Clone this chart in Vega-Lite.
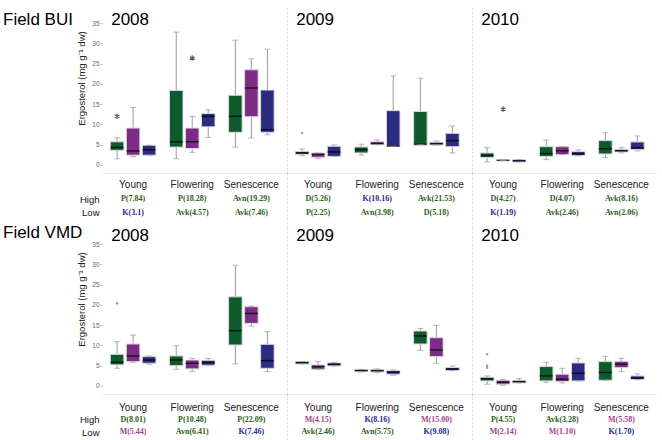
{
"$schema": "https://vega.github.io/schema/vega-lite/v6.json",
"padding": {"left": 3, "top": 7, "right": 0, "bottom": 0},
"background": "white",
"columns": 4,
"spacing": {"row": 0, "column": 0},
"bounds": "flush",
"align": "each",
"config": {"view": {"stroke": null}, "axis": {"grid": false, "labelOverlap": false}, "font": "Liberation Sans"},
"datasets": {
"bx": [
{"site":"BUI","year":"2008","stage":"Young","grp":"g","kind":"box","lo":1.5,"q1":3.6,"med":4.3,"q3":5.7,"hi":6.7},
{"site":"BUI","year":"2008","stage":"Young","grp":"p","kind":"box","lo":2.0,"q1":2.4,"med":3.45,"q3":9.1,"hi":14.2},
{"site":"BUI","year":"2008","stage":"Young","grp":"b","kind":"box","lo":2.4,"q1":2.4,"med":3.75,"q3":4.85,"hi":4.85},
{"site":"BUI","year":"2008","stage":"Flowering","grp":"g","kind":"box","lo":1.5,"q1":4.4,"med":5.7,"q3":18.4,"hi":32.8},
{"site":"BUI","year":"2008","stage":"Flowering","grp":"p","kind":"box","lo":3.1,"q1":4.05,"med":5.7,"q3":9.1,"hi":12.0},
{"site":"BUI","year":"2008","stage":"Flowering","grp":"b","kind":"box","lo":6.8,"q1":9.4,"med":12.0,"q3":12.7,"hi":13.6},
{"site":"BUI","year":"2008","stage":"Senescence","grp":"g","kind":"box","lo":4.4,"q1":8.05,"med":12.0,"q3":17.2,"hi":30.8},
{"site":"BUI","year":"2008","stage":"Senescence","grp":"p","kind":"box","lo":6.65,"q1":11.9,"med":19.0,"q3":23.5,"hi":26.2},
{"site":"BUI","year":"2008","stage":"Senescence","grp":"b","kind":"box","lo":7.45,"q1":8.05,"med":8.7,"q3":18.5,"hi":28.6},
{"site":"BUI","year":"2009","stage":"Young","grp":"g","kind":"box","lo":2.3,"q1":2.6,"med":2.95,"q3":3.35,"hi":3.95},
{"site":"BUI","year":"2009","stage":"Young","grp":"p","kind":"box","lo":1.63,"q1":1.87,"med":2.6,"q3":2.95,"hi":2.95},
{"site":"BUI","year":"2009","stage":"Young","grp":"b","kind":"box","lo":2.1,"q1":2.1,"med":3.2,"q3":4.6,"hi":4.93},
{"site":"BUI","year":"2009","stage":"Flowering","grp":"g","kind":"box","lo":2.45,"q1":2.95,"med":3.77,"q3":4.43,"hi":5.1},
{"site":"BUI","year":"2009","stage":"Flowering","grp":"p","kind":"box","lo":5.0,"q1":5.0,"med":5.25,"q3":5.75,"hi":6.15},
{"site":"BUI","year":"2009","stage":"Flowering","grp":"b","kind":"box","lo":4.6,"q1":4.6,"med":4.65,"q3":13.4,"hi":22.0},
{"site":"BUI","year":"2009","stage":"Senescence","grp":"g","kind":"box","lo":5.0,"q1":5.0,"med":5.05,"q3":13.2,"hi":21.4},
{"site":"BUI","year":"2009","stage":"Senescence","grp":"p","kind":"box","lo":4.9,"q1":4.93,"med":5.25,"q3":5.6,"hi":5.9},
{"site":"BUI","year":"2009","stage":"Senescence","grp":"b","kind":"box","lo":2.95,"q1":4.5,"med":6.0,"q3":7.8,"hi":9.6},
{"site":"BUI","year":"2010","stage":"Young","grp":"g","kind":"box","lo":0.74,"q1":1.8,"med":2.37,"q3":2.95,"hi":4.26},
{"site":"BUI","year":"2010","stage":"Young","grp":"p","kind":"box","lo":1.05,"q1":1.05,"med":1.13,"q3":1.2,"hi":1.2},
{"site":"BUI","year":"2010","stage":"Young","grp":"b","kind":"box","lo":0.7,"q1":0.74,"med":1.0,"q3":1.3,"hi":1.35},
{"site":"BUI","year":"2010","stage":"Flowering","grp":"g","kind":"box","lo":1.3,"q1":2.1,"med":2.8,"q3":4.5,"hi":6.15},
{"site":"BUI","year":"2010","stage":"Flowering","grp":"p","kind":"box","lo":2.55,"q1":2.55,"med":3.5,"q3":4.5,"hi":4.5},
{"site":"BUI","year":"2010","stage":"Flowering","grp":"b","kind":"box","lo":2.3,"q1":2.3,"med":2.8,"q3":3.28,"hi":3.7},
{"site":"BUI","year":"2010","stage":"Senescence","grp":"g","kind":"box","lo":1.8,"q1":2.7,"med":4.0,"q3":6.0,"hi":7.95},
{"site":"BUI","year":"2010","stage":"Senescence","grp":"p","kind":"box","lo":2.95,"q1":3.2,"med":3.5,"q3":3.85,"hi":4.26},
{"site":"BUI","year":"2010","stage":"Senescence","grp":"b","kind":"box","lo":3.45,"q1":3.77,"med":4.26,"q3":5.67,"hi":7.15},
{"site":"VMD","year":"2008","stage":"Young","grp":"g","kind":"box","lo":4.35,"q1":5.2,"med":5.83,"q3":7.8,"hi":10.9},
{"site":"VMD","year":"2008","stage":"Young","grp":"p","kind":"box","lo":5.83,"q1":6.0,"med":7.4,"q3":10.35,"hi":12.57},
{"site":"VMD","year":"2008","stage":"Young","grp":"b","kind":"box","lo":5.34,"q1":5.59,"med":6.4,"q3":7.23,"hi":7.4},
{"site":"VMD","year":"2008","stage":"Flowering","grp":"g","kind":"box","lo":4.1,"q1":5.0,"med":6.4,"q3":7.4,"hi":9.94},
{"site":"VMD","year":"2008","stage":"Flowering","grp":"p","kind":"box","lo":3.53,"q1":4.2,"med":5.6,"q3":6.4,"hi":6.8},
{"site":"VMD","year":"2008","stage":"Flowering","grp":"b","kind":"box","lo":5.1,"q1":5.1,"med":5.75,"q3":6.33,"hi":6.8},
{"site":"VMD","year":"2008","stage":"Senescence","grp":"g","kind":"box","lo":5.42,"q1":10.1,"med":13.64,"q3":22.0,"hi":29.8},
{"site":"VMD","year":"2008","stage":"Senescence","grp":"p","kind":"box","lo":14.8,"q1":15.45,"med":17.9,"q3":19.56,"hi":19.7},
{"site":"VMD","year":"2008","stage":"Senescence","grp":"b","kind":"box","lo":3.53,"q1":4.35,"med":6.25,"q3":10.27,"hi":13.4},
{"site":"VMD","year":"2009","stage":"Young","grp":"g","kind":"box","lo":5.4,"q1":5.42,"med":5.75,"q3":6.0,"hi":6.05},
{"site":"VMD","year":"2009","stage":"Young","grp":"p","kind":"box","lo":4.1,"q1":4.1,"med":4.77,"q3":5.18,"hi":6.0},
{"site":"VMD","year":"2009","stage":"Young","grp":"b","kind":"box","lo":4.93,"q1":4.93,"med":5.34,"q3":5.67,"hi":5.8},
{"site":"VMD","year":"2009","stage":"Flowering","grp":"g","kind":"box","lo":3.45,"q1":3.53,"med":3.78,"q3":4.03,"hi":4.1},
{"site":"VMD","year":"2009","stage":"Flowering","grp":"p","kind":"box","lo":3.29,"q1":3.45,"med":3.78,"q3":4.0,"hi":4.19},
{"site":"VMD","year":"2009","stage":"Flowering","grp":"b","kind":"box","lo":2.63,"q1":2.88,"med":3.37,"q3":3.78,"hi":3.94},
{"site":"VMD","year":"2009","stage":"Senescence","grp":"g","kind":"box","lo":8.8,"q1":10.35,"med":12.33,"q3":13.56,"hi":14.2},
{"site":"VMD","year":"2009","stage":"Senescence","grp":"p","kind":"box","lo":5.59,"q1":7.23,"med":8.87,"q3":11.9,"hi":14.95},
{"site":"VMD","year":"2009","stage":"Senescence","grp":"b","kind":"box","lo":3.78,"q1":3.78,"med":4.19,"q3":4.52,"hi":4.93},
{"site":"VMD","year":"2010","stage":"Young","grp":"g","kind":"box","lo":0.41,"q1":1.23,"med":1.73,"q3":2.14,"hi":2.47},
{"site":"VMD","year":"2010","stage":"Young","grp":"p","kind":"box","lo":0.16,"q1":0.41,"med":0.9,"q3":1.4,"hi":1.56},
{"site":"VMD","year":"2010","stage":"Young","grp":"b","kind":"box","lo":0.74,"q1":0.74,"med":1.07,"q3":1.31,"hi":1.8},
{"site":"VMD","year":"2010","stage":"Flowering","grp":"g","kind":"box","lo":0.9,"q1":1.23,"med":2.47,"q3":4.77,"hi":5.83},
{"site":"VMD","year":"2010","stage":"Flowering","grp":"p","kind":"box","lo":0.74,"q1":1.07,"med":1.64,"q3":2.88,"hi":4.35},
{"site":"VMD","year":"2010","stage":"Flowering","grp":"b","kind":"box","lo":1.23,"q1":1.23,"med":3.12,"q3":5.67,"hi":6.8},
{"site":"VMD","year":"2010","stage":"Senescence","grp":"g","kind":"box","lo":1.4,"q1":1.4,"med":3.29,"q3":6.0,"hi":7.3},
{"site":"VMD","year":"2010","stage":"Senescence","grp":"p","kind":"box","lo":3.53,"q1":4.52,"med":5.34,"q3":6.08,"hi":6.8},
{"site":"VMD","year":"2010","stage":"Senescence","grp":"b","kind":"box","lo":1.56,"q1":1.56,"med":1.97,"q3":2.47,"hi":2.96},
{"site":"BUI","year":"2008","stage":"Young","grp":"g","kind":"ext","v":12.0},
{"site":"BUI","year":"2008","stage":"Flowering","grp":"p","kind":"ext","v":26.4},
{"site":"BUI","year":"2009","stage":"Young","grp":"g","kind":"dot","v":7.9},
{"site":"BUI","year":"2010","stage":"Young","grp":"p","kind":"ext","v":13.8},
{"site":"VMD","year":"2008","stage":"Young","grp":"g","kind":"dot","v":20.4},
{"site":"VMD","year":"2010","stage":"Young","grp":"g","kind":"dot","v":7.8},
{"site":"VMD","year":"2010","stage":"Young","grp":"g","kind":"dot","v":5.0},
{"site":"VMD","year":"2010","stage":"Young","grp":"g","kind":"dot","v":4.5}
],
"tx": [
{"site":"BUI","year":"2008","stage":"Young","level":"High","code":"P","label":"P(7.84)"},
{"site":"BUI","year":"2008","stage":"Young","level":"Low","code":"K","label":"K(3.1)"},
{"site":"BUI","year":"2008","stage":"Flowering","level":"High","code":"P","label":"P(18.28)"},
{"site":"BUI","year":"2008","stage":"Flowering","level":"Low","code":"Avk","label":"Avk(4.57)"},
{"site":"BUI","year":"2008","stage":"Senescence","level":"High","code":"Avn","label":"Avn(19.29)"},
{"site":"BUI","year":"2008","stage":"Senescence","level":"Low","code":"Avk","label":"Avk(7.46)"},
{"site":"BUI","year":"2009","stage":"Young","level":"High","code":"D","label":"D(5.26)"},
{"site":"BUI","year":"2009","stage":"Young","level":"Low","code":"P","label":"P(2.25)"},
{"site":"BUI","year":"2009","stage":"Flowering","level":"High","code":"K","label":"K(10.16)"},
{"site":"BUI","year":"2009","stage":"Flowering","level":"Low","code":"Avn","label":"Avn(3.98)"},
{"site":"BUI","year":"2009","stage":"Senescence","level":"High","code":"Avk","label":"Avk(21.53)"},
{"site":"BUI","year":"2009","stage":"Senescence","level":"Low","code":"D","label":"D(5.18)"},
{"site":"BUI","year":"2010","stage":"Young","level":"High","code":"D","label":"D(4.27)"},
{"site":"BUI","year":"2010","stage":"Young","level":"Low","code":"K","label":"K(1.19)"},
{"site":"BUI","year":"2010","stage":"Flowering","level":"High","code":"D","label":"D(4.07)"},
{"site":"BUI","year":"2010","stage":"Flowering","level":"Low","code":"Avk","label":"Avk(2.46)"},
{"site":"BUI","year":"2010","stage":"Senescence","level":"High","code":"Avk","label":"Avk(8.16)"},
{"site":"BUI","year":"2010","stage":"Senescence","level":"Low","code":"Avn","label":"Avn(2.06)"},
{"site":"VMD","year":"2008","stage":"Young","level":"High","code":"D","label":"D(8.01)"},
{"site":"VMD","year":"2008","stage":"Young","level":"Low","code":"M","label":"M(5.44)"},
{"site":"VMD","year":"2008","stage":"Flowering","level":"High","code":"P","label":"P(10.48)"},
{"site":"VMD","year":"2008","stage":"Flowering","level":"Low","code":"Avn","label":"Avn(6.41)"},
{"site":"VMD","year":"2008","stage":"Senescence","level":"High","code":"P","label":"P(22.09)"},
{"site":"VMD","year":"2008","stage":"Senescence","level":"Low","code":"K","label":"K(7.46)"},
{"site":"VMD","year":"2009","stage":"Young","level":"High","code":"M","label":"M(4.15)"},
{"site":"VMD","year":"2009","stage":"Young","level":"Low","code":"Avk","label":"Avk(2.46)"},
{"site":"VMD","year":"2009","stage":"Flowering","level":"High","code":"K","label":"K(8.16)"},
{"site":"VMD","year":"2009","stage":"Flowering","level":"Low","code":"Avn","label":"Avn(5.75)"},
{"site":"VMD","year":"2009","stage":"Senescence","level":"High","code":"M","label":"M(15.00)"},
{"site":"VMD","year":"2009","stage":"Senescence","level":"Low","code":"K","label":"K(9.08)"},
{"site":"VMD","year":"2010","stage":"Young","level":"High","code":"P","label":"P(4.55)"},
{"site":"VMD","year":"2010","stage":"Young","level":"Low","code":"M","label":"M(2.14)"},
{"site":"VMD","year":"2010","stage":"Flowering","level":"High","code":"Avk","label":"Avk(3.28)"},
{"site":"VMD","year":"2010","stage":"Flowering","level":"Low","code":"M","label":"M(1.10)"},
{"site":"VMD","year":"2010","stage":"Senescence","level":"High","code":"M","label":"M(5.58)"},
{"site":"VMD","year":"2010","stage":"Senescence","level":"Low","code":"K","label":"K(1.70)"}
]
},
"concat": [
{"width": 99, "height": 26, "data": {"values": [{"t": "Field BUI"}]}, "mark": {"type": "text", "align": "left", "baseline": "middle", "fontSize": 17, "font": "Liberation Sans", "color": "#000"}, "encoding": {"x": {"field": "t", "type": "nominal", "axis": null, "scale": {"type": "point", "padding": 0, "align": 0}}, "text": {"field": "t"}}},

{"width":185,"height":166,"data":{"name":"bx"},"transform":[{"filter":"datum.site=='BUI' && datum.year=='2008'"}],
"encoding":{"x":{"field":"stage","type":"nominal","sort":["Young","Flowering","Senescence"],"scale":{"type":"band","domain":["Young","Flowering","Senescence"],"paddingInner":0,"paddingOuter":0.064,"align":0.2},"axis":{"labels":false,"ticks":false,"title":null,"domainColor":"#e6e6e6"}}},
"layer":[
{"transform":[{"filter":"datum.kind=='box'"}],"mark":{"type":"rule","color":"#9a9a9a","strokeWidth":1},"encoding":{"xOffset":{"field":"grp","type":"nominal","scale":{"domain":["g","p","b"],"paddingInner":0.156,"paddingOuter":0.426}},"y":{"field":"lo","type":"quantitative","scale":{"domain":[-2,39],"nice":false,"zero":false},"axis":{"values":[0,5,10,15,20,25,30,35],"labelOverlap":false,"title":"Ergosterol  (mg g⁻¹ dw)","titleFontSize":9.5,"titleFont":"Liberation Sans","titleFontWeight":"normal","titleColor":"#222","titlePadding":5,"titleY":71,"labelFontSize":6.5,"labelColor":"#666","labelFont":"Liberation Sans","tickSize":2,"tickColor":"#bbb","labelPadding":1,"domain":false}},"y2":{"field":"hi"}}},
{"transform":[{"filter":"datum.kind=='box'"}],"mark":{"type":"bar","stroke":"#d9d9d9","strokeWidth":1},"encoding":{"xOffset":{"field":"grp","type":"nominal","scale":{"domain":["g","p","b"],"paddingInner":0.156,"paddingOuter":0.426}},"y":{"field":"q1","type":"quantitative","scale":{"domain":[-2,39],"nice":false,"zero":false},"axis":{"values":[0,5,10,15,20,25,30,35],"labelOverlap":false,"title":"Ergosterol  (mg g⁻¹ dw)","titleFontSize":9.5,"titleFont":"Liberation Sans","titleFontWeight":"normal","titleColor":"#222","titlePadding":5,"titleY":71,"labelFontSize":6.5,"labelColor":"#666","labelFont":"Liberation Sans","tickSize":2,"tickColor":"#bbb","labelPadding":1,"domain":false}},"y2":{"field":"q3"},"fill":{"field":"grp","type":"nominal","scale":{"domain":["g","p","b"],"range":["#0e5a2c","#7d2c86","#2b2b80"]},"legend":null}}},
{"transform":[{"filter":"datum.kind=='box'"}],"mark":{"type":"tick","color":"#000","size":13,"thickness":1.5},"encoding":{"xOffset":{"field":"grp","type":"nominal","scale":{"domain":["g","p","b"],"paddingInner":0.156,"paddingOuter":0.426}},"y":{"field":"med","type":"quantitative","scale":{"domain":[-2,39],"nice":false,"zero":false},"axis":{"values":[0,5,10,15,20,25,30,35],"labelOverlap":false,"title":"Ergosterol  (mg g⁻¹ dw)","titleFontSize":9.5,"titleFont":"Liberation Sans","titleFontWeight":"normal","titleColor":"#222","titlePadding":5,"titleY":71,"labelFontSize":6.5,"labelColor":"#666","labelFont":"Liberation Sans","tickSize":2,"tickColor":"#bbb","labelPadding":1,"domain":false}}}},
{"transform":[{"filter":"datum.kind=='box'"}],"mark":{"type":"tick","color":"#9a9a9a","size":6,"thickness":1},"encoding":{"xOffset":{"field":"grp","type":"nominal","scale":{"domain":["g","p","b"],"paddingInner":0.156,"paddingOuter":0.426}},"y":{"field":"lo","type":"quantitative","scale":{"domain":[-2,39],"nice":false,"zero":false},"axis":{"values":[0,5,10,15,20,25,30,35],"labelOverlap":false,"title":"Ergosterol  (mg g⁻¹ dw)","titleFontSize":9.5,"titleFont":"Liberation Sans","titleFontWeight":"normal","titleColor":"#222","titlePadding":5,"titleY":71,"labelFontSize":6.5,"labelColor":"#666","labelFont":"Liberation Sans","tickSize":2,"tickColor":"#bbb","labelPadding":1,"domain":false}}}},
{"transform":[{"filter":"datum.kind=='box'"}],"mark":{"type":"tick","color":"#9a9a9a","size":6,"thickness":1},"encoding":{"xOffset":{"field":"grp","type":"nominal","scale":{"domain":["g","p","b"],"paddingInner":0.156,"paddingOuter":0.426}},"y":{"field":"hi","type":"quantitative","scale":{"domain":[-2,39],"nice":false,"zero":false},"axis":{"values":[0,5,10,15,20,25,30,35],"labelOverlap":false,"title":"Ergosterol  (mg g⁻¹ dw)","titleFontSize":9.5,"titleFont":"Liberation Sans","titleFontWeight":"normal","titleColor":"#222","titlePadding":5,"titleY":71,"labelFontSize":6.5,"labelColor":"#666","labelFont":"Liberation Sans","tickSize":2,"tickColor":"#bbb","labelPadding":1,"domain":false}}}},
{"transform":[{"filter":"datum.kind=='ext'"}],"mark":{"type":"point","shape":"M0,-1L0,1M-0.87,-0.5L0.87,0.5M-0.87,0.5L0.87,-0.5","filled":false,"color":"#111","size":30,"strokeWidth":1.2},"encoding":{"xOffset":{"field":"grp","type":"nominal","scale":{"domain":["g","p","b"],"paddingInner":0.156,"paddingOuter":0.426}},"y":{"field":"v","type":"quantitative","scale":{"domain":[-2,39],"nice":false,"zero":false},"axis":{"values":[0,5,10,15,20,25,30,35],"labelOverlap":false,"title":"Ergosterol  (mg g⁻¹ dw)","titleFontSize":9.5,"titleFont":"Liberation Sans","titleFontWeight":"normal","titleColor":"#222","titlePadding":5,"titleY":71,"labelFontSize":6.5,"labelColor":"#666","labelFont":"Liberation Sans","tickSize":2,"tickColor":"#bbb","labelPadding":1,"domain":false}}}},
{"transform":[{"filter":"datum.kind=='dot'"}],"mark":{"type":"point","shape":"circle","filled":true,"color":"#777","size":6},"encoding":{"xOffset":{"field":"grp","type":"nominal","scale":{"domain":["g","p","b"],"paddingInner":0.156,"paddingOuter":0.426}},"y":{"field":"v","type":"quantitative","scale":{"domain":[-2,39],"nice":false,"zero":false},"axis":{"values":[0,5,10,15,20,25,30,35],"labelOverlap":false,"title":"Ergosterol  (mg g⁻¹ dw)","titleFontSize":9.5,"titleFont":"Liberation Sans","titleFontWeight":"normal","titleColor":"#222","titlePadding":5,"titleY":71,"labelFontSize":6.5,"labelColor":"#666","labelFont":"Liberation Sans","tickSize":2,"tickColor":"#bbb","labelPadding":1,"domain":false}}}},
{"transform":[{"filter":"datum.kind=='box' && datum.stage=='Young' && datum.grp=='g'"}],"mark":{"type":"text","align":"left","baseline":"alphabetic","fontSize":17,"font":"Liberation Sans","color":"#000"},"encoding":{"x":{"field":"stage","type":"nominal","bandPosition":0.13},"y":{"datum":34.5,"type":"quantitative","scale":{"domain":[-2,39],"nice":false,"zero":false},"axis":{"values":[0,5,10,15,20,25,30,35],"labelOverlap":false,"title":"Ergosterol  (mg g⁻¹ dw)","titleFontSize":9.5,"titleFont":"Liberation Sans","titleFontWeight":"normal","titleColor":"#222","titlePadding":5,"titleY":71,"labelFontSize":6.5,"labelColor":"#666","labelFont":"Liberation Sans","tickSize":2,"tickColor":"#bbb","labelPadding":1,"domain":false}},"text":{"field":"year"}}}
]},

{"width":185,"height":166,"data":{"name":"bx"},"transform":[{"filter":"datum.site=='BUI' && datum.year=='2009'"}],
"encoding":{"x":{"field":"stage","type":"nominal","sort":["Young","Flowering","Senescence"],"scale":{"type":"band","domain":["Young","Flowering","Senescence"],"paddingInner":0,"paddingOuter":0.064,"align":0.2},"axis":{"labels":false,"ticks":false,"title":null,"domainColor":"#e6e6e6"}}},
"layer":[
{"transform":[{"filter":"datum.kind=='box'"}],"mark":{"type":"rule","color":"#9a9a9a","strokeWidth":1},"encoding":{"xOffset":{"field":"grp","type":"nominal","scale":{"domain":["g","p","b"],"paddingInner":0.156,"paddingOuter":0.426}},"y":{"field":"lo","type":"quantitative","scale":{"domain":[-2,39],"nice":false,"zero":false},"axis":{"title":null,"labels":false,"ticks":false,"domain":true,"domainColor":"#d6d6d6","domainDash":[2,2]}},"y2":{"field":"hi"}}},
{"transform":[{"filter":"datum.kind=='box'"}],"mark":{"type":"bar","stroke":"#d9d9d9","strokeWidth":1},"encoding":{"xOffset":{"field":"grp","type":"nominal","scale":{"domain":["g","p","b"],"paddingInner":0.156,"paddingOuter":0.426}},"y":{"field":"q1","type":"quantitative","scale":{"domain":[-2,39],"nice":false,"zero":false}},"y2":{"field":"q3"},"fill":{"field":"grp","type":"nominal","scale":{"domain":["g","p","b"],"range":["#0e5a2c","#7d2c86","#2b2b80"]},"legend":null}}},
{"transform":[{"filter":"datum.kind=='box'"}],"mark":{"type":"tick","color":"#000","size":13,"thickness":1.5},"encoding":{"xOffset":{"field":"grp","type":"nominal","scale":{"domain":["g","p","b"],"paddingInner":0.156,"paddingOuter":0.426}},"y":{"field":"med","type":"quantitative","scale":{"domain":[-2,39],"nice":false,"zero":false}}}},
{"transform":[{"filter":"datum.kind=='box'"}],"mark":{"type":"tick","color":"#9a9a9a","size":6,"thickness":1},"encoding":{"xOffset":{"field":"grp","type":"nominal","scale":{"domain":["g","p","b"],"paddingInner":0.156,"paddingOuter":0.426}},"y":{"field":"lo","type":"quantitative","scale":{"domain":[-2,39],"nice":false,"zero":false}}}},
{"transform":[{"filter":"datum.kind=='box'"}],"mark":{"type":"tick","color":"#9a9a9a","size":6,"thickness":1},"encoding":{"xOffset":{"field":"grp","type":"nominal","scale":{"domain":["g","p","b"],"paddingInner":0.156,"paddingOuter":0.426}},"y":{"field":"hi","type":"quantitative","scale":{"domain":[-2,39],"nice":false,"zero":false}}}},
{"transform":[{"filter":"datum.kind=='ext'"}],"mark":{"type":"point","shape":"M0,-1L0,1M-0.87,-0.5L0.87,0.5M-0.87,0.5L0.87,-0.5","filled":false,"color":"#111","size":30,"strokeWidth":1.2},"encoding":{"xOffset":{"field":"grp","type":"nominal","scale":{"domain":["g","p","b"],"paddingInner":0.156,"paddingOuter":0.426}},"y":{"field":"v","type":"quantitative","scale":{"domain":[-2,39],"nice":false,"zero":false}}}},
{"transform":[{"filter":"datum.kind=='dot'"}],"mark":{"type":"point","shape":"circle","filled":true,"color":"#777","size":6},"encoding":{"xOffset":{"field":"grp","type":"nominal","scale":{"domain":["g","p","b"],"paddingInner":0.156,"paddingOuter":0.426}},"y":{"field":"v","type":"quantitative","scale":{"domain":[-2,39],"nice":false,"zero":false}}}},
{"transform":[{"filter":"datum.kind=='box' && datum.stage=='Young' && datum.grp=='g'"}],"mark":{"type":"text","align":"left","baseline":"alphabetic","fontSize":17,"font":"Liberation Sans","color":"#000"},"encoding":{"x":{"field":"stage","type":"nominal","bandPosition":0.13},"y":{"datum":34.5,"type":"quantitative","scale":{"domain":[-2,39],"nice":false,"zero":false}},"text":{"field":"year"}}}
]},

{"width":185,"height":166,"data":{"name":"bx"},"transform":[{"filter":"datum.site=='BUI' && datum.year=='2010'"}],
"encoding":{"x":{"field":"stage","type":"nominal","sort":["Young","Flowering","Senescence"],"scale":{"type":"band","domain":["Young","Flowering","Senescence"],"paddingInner":0,"paddingOuter":0.064,"align":0.2},"axis":{"labels":false,"ticks":false,"title":null,"domainColor":"#e6e6e6"}}},
"layer":[
{"transform":[{"filter":"datum.kind=='box'"}],"mark":{"type":"rule","color":"#9a9a9a","strokeWidth":1},"encoding":{"xOffset":{"field":"grp","type":"nominal","scale":{"domain":["g","p","b"],"paddingInner":0.156,"paddingOuter":0.426}},"y":{"field":"lo","type":"quantitative","scale":{"domain":[-2,39],"nice":false,"zero":false},"axis":{"title":null,"labels":false,"ticks":false,"domain":true,"domainColor":"#d6d6d6","domainDash":[2,2]}},"y2":{"field":"hi"}}},
{"transform":[{"filter":"datum.kind=='box'"}],"mark":{"type":"bar","stroke":"#d9d9d9","strokeWidth":1},"encoding":{"xOffset":{"field":"grp","type":"nominal","scale":{"domain":["g","p","b"],"paddingInner":0.156,"paddingOuter":0.426}},"y":{"field":"q1","type":"quantitative","scale":{"domain":[-2,39],"nice":false,"zero":false}},"y2":{"field":"q3"},"fill":{"field":"grp","type":"nominal","scale":{"domain":["g","p","b"],"range":["#0e5a2c","#7d2c86","#2b2b80"]},"legend":null}}},
{"transform":[{"filter":"datum.kind=='box'"}],"mark":{"type":"tick","color":"#000","size":13,"thickness":1.5},"encoding":{"xOffset":{"field":"grp","type":"nominal","scale":{"domain":["g","p","b"],"paddingInner":0.156,"paddingOuter":0.426}},"y":{"field":"med","type":"quantitative","scale":{"domain":[-2,39],"nice":false,"zero":false}}}},
{"transform":[{"filter":"datum.kind=='box'"}],"mark":{"type":"tick","color":"#9a9a9a","size":6,"thickness":1},"encoding":{"xOffset":{"field":"grp","type":"nominal","scale":{"domain":["g","p","b"],"paddingInner":0.156,"paddingOuter":0.426}},"y":{"field":"lo","type":"quantitative","scale":{"domain":[-2,39],"nice":false,"zero":false}}}},
{"transform":[{"filter":"datum.kind=='box'"}],"mark":{"type":"tick","color":"#9a9a9a","size":6,"thickness":1},"encoding":{"xOffset":{"field":"grp","type":"nominal","scale":{"domain":["g","p","b"],"paddingInner":0.156,"paddingOuter":0.426}},"y":{"field":"hi","type":"quantitative","scale":{"domain":[-2,39],"nice":false,"zero":false}}}},
{"transform":[{"filter":"datum.kind=='ext'"}],"mark":{"type":"point","shape":"M0,-1L0,1M-0.87,-0.5L0.87,0.5M-0.87,0.5L0.87,-0.5","filled":false,"color":"#111","size":30,"strokeWidth":1.2},"encoding":{"xOffset":{"field":"grp","type":"nominal","scale":{"domain":["g","p","b"],"paddingInner":0.156,"paddingOuter":0.426}},"y":{"field":"v","type":"quantitative","scale":{"domain":[-2,39],"nice":false,"zero":false}}}},
{"transform":[{"filter":"datum.kind=='dot'"}],"mark":{"type":"point","shape":"circle","filled":true,"color":"#777","size":6},"encoding":{"xOffset":{"field":"grp","type":"nominal","scale":{"domain":["g","p","b"],"paddingInner":0.156,"paddingOuter":0.426}},"y":{"field":"v","type":"quantitative","scale":{"domain":[-2,39],"nice":false,"zero":false}}}},
{"transform":[{"filter":"datum.kind=='box' && datum.stage=='Young' && datum.grp=='g'"}],"mark":{"type":"text","align":"left","baseline":"alphabetic","fontSize":17,"font":"Liberation Sans","color":"#000"},"encoding":{"x":{"field":"stage","type":"nominal","bandPosition":0.13},"y":{"datum":34.5,"type":"quantitative","scale":{"domain":[-2,39],"nice":false,"zero":false}},"text":{"field":"year"}}}
]},

{"width": 99, "height": 10, "data": {"values": []}, "mark": "point", "encoding": {}},

{"width":185,"height":55,"data":{"name":"tx"},"transform":[{"filter":"datum.site=='BUI' && datum.year=='2008'"}],
"encoding":{"x":{"field":"stage","type":"nominal","bandPosition":0.5,"sort":["Young","Flowering","Senescence"],"scale":{"type":"band","domain":["Young","Flowering","Senescence"],"paddingInner":0,"paddingOuter":0.064,"align":0.2},"axis":null}},
"layer":[
{"transform":[{"filter":"datum.level=='High'"}],"mark":{"type":"text","fontSize":10,"font":"Liberation Sans","color":"#222"},"encoding":{"y":{"datum":"Stage","type":"nominal","scale":{"type":"point","domain":["Stage","High","Low"],"padding":1.227,"align":0.449},"axis":{"title":null,"ticks":false,"domain":false,"labelFontSize":9.5,"labelColor":"#111","labelFont":"Liberation Sans","labelPadding":3,"labelExpr":"datum.label == 'Stage' ? '' : datum.label"}},"text":{"field":"stage"}}},
{"mark":{"type":"text","fontSize":8,"font":"Liberation Serif","fontWeight":"bold"},"encoding":{"y":{"field":"level","type":"nominal","scale":{"type":"point","domain":["Stage","High","Low"],"padding":1.227,"align":0.449}},"text":{"field":"label"},"color":{"field":"code","type":"nominal","scale":{"domain":["P","D","Avn","Avk","K","M"],"range":["#2c5f22","#2c5f22","#2c5f22","#2c5f22","#23298a","#a1468b"]},"legend":null}}}
]},

{"width":185,"height":55,"data":{"name":"tx"},"transform":[{"filter":"datum.site=='BUI' && datum.year=='2009'"}],
"encoding":{"x":{"field":"stage","type":"nominal","bandPosition":0.5,"sort":["Young","Flowering","Senescence"],"scale":{"type":"band","domain":["Young","Flowering","Senescence"],"paddingInner":0,"paddingOuter":0.064,"align":0.2},"axis":null}},
"layer":[
{"transform":[{"filter":"datum.level=='High'"}],"mark":{"type":"text","fontSize":10,"font":"Liberation Sans","color":"#222"},"encoding":{"y":{"datum":"Stage","type":"nominal","scale":{"type":"point","domain":["Stage","High","Low"],"padding":1.227,"align":0.449},"axis":{"title":null,"labels":false,"ticks":false,"domain":true,"domainColor":"#d6d6d6","domainDash":[2,2]}},"text":{"field":"stage"}}},
{"mark":{"type":"text","fontSize":8,"font":"Liberation Serif","fontWeight":"bold"},"encoding":{"y":{"field":"level","type":"nominal","scale":{"type":"point","domain":["Stage","High","Low"],"padding":1.227,"align":0.449}},"text":{"field":"label"},"color":{"field":"code","type":"nominal","scale":{"domain":["P","D","Avn","Avk","K","M"],"range":["#2c5f22","#2c5f22","#2c5f22","#2c5f22","#23298a","#a1468b"]},"legend":null}}}
]},

{"width":185,"height":55,"data":{"name":"tx"},"transform":[{"filter":"datum.site=='BUI' && datum.year=='2010'"}],
"encoding":{"x":{"field":"stage","type":"nominal","bandPosition":0.5,"sort":["Young","Flowering","Senescence"],"scale":{"type":"band","domain":["Young","Flowering","Senescence"],"paddingInner":0,"paddingOuter":0.064,"align":0.2},"axis":null}},
"layer":[
{"transform":[{"filter":"datum.level=='High'"}],"mark":{"type":"text","fontSize":10,"font":"Liberation Sans","color":"#222"},"encoding":{"y":{"datum":"Stage","type":"nominal","scale":{"type":"point","domain":["Stage","High","Low"],"padding":1.227,"align":0.449},"axis":{"title":null,"labels":false,"ticks":false,"domain":true,"domainColor":"#d6d6d6","domainDash":[2,2]}},"text":{"field":"stage"}}},
{"mark":{"type":"text","fontSize":8,"font":"Liberation Serif","fontWeight":"bold"},"encoding":{"y":{"field":"level","type":"nominal","scale":{"type":"point","domain":["Stage","High","Low"],"padding":1.227,"align":0.449}},"text":{"field":"label"},"color":{"field":"code","type":"nominal","scale":{"domain":["P","D","Avn","Avk","K","M"],"range":["#2c5f22","#2c5f22","#2c5f22","#2c5f22","#23298a","#a1468b"]},"legend":null}}}
]},

{"width": 99, "height": 9, "data": {"values": [{"t": "Field VMD"}]}, "mark": {"type": "text", "align": "left", "baseline": "middle", "fontSize": 17, "font": "Liberation Sans", "color": "#000"}, "encoding": {"x": {"field": "t", "type": "nominal", "axis": null, "scale": {"type": "point", "padding": 0, "align": 0}}, "text": {"field": "t"}}},

{"width":185,"height":166,"data":{"name":"bx"},"transform":[{"filter":"datum.site=='VMD' && datum.year=='2008'"}],
"encoding":{"x":{"field":"stage","type":"nominal","sort":["Young","Flowering","Senescence"],"scale":{"type":"band","domain":["Young","Flowering","Senescence"],"paddingInner":0,"paddingOuter":0.064,"align":0.2},"axis":{"labels":false,"ticks":false,"title":null,"domainColor":"#e6e6e6"}}},
"layer":[
{"transform":[{"filter":"datum.kind=='box'"}],"mark":{"type":"rule","color":"#9a9a9a","strokeWidth":1},"encoding":{"xOffset":{"field":"grp","type":"nominal","scale":{"domain":["g","p","b"],"paddingInner":0.156,"paddingOuter":0.426}},"y":{"field":"lo","type":"quantitative","scale":{"domain":[-2,39],"nice":false,"zero":false},"axis":{"values":[0,5,10,15,20,25,30,35],"labelOverlap":false,"title":"Ergosterol  (mg g⁻¹ dw)","titleFontSize":9.5,"titleFont":"Liberation Sans","titleFontWeight":"normal","titleColor":"#222","titlePadding":5,"titleY":71,"labelFontSize":6.5,"labelColor":"#666","labelFont":"Liberation Sans","tickSize":2,"tickColor":"#bbb","labelPadding":1,"domain":false}},"y2":{"field":"hi"}}},
{"transform":[{"filter":"datum.kind=='box'"}],"mark":{"type":"bar","stroke":"#d9d9d9","strokeWidth":1},"encoding":{"xOffset":{"field":"grp","type":"nominal","scale":{"domain":["g","p","b"],"paddingInner":0.156,"paddingOuter":0.426}},"y":{"field":"q1","type":"quantitative","scale":{"domain":[-2,39],"nice":false,"zero":false},"axis":{"values":[0,5,10,15,20,25,30,35],"labelOverlap":false,"title":"Ergosterol  (mg g⁻¹ dw)","titleFontSize":9.5,"titleFont":"Liberation Sans","titleFontWeight":"normal","titleColor":"#222","titlePadding":5,"titleY":71,"labelFontSize":6.5,"labelColor":"#666","labelFont":"Liberation Sans","tickSize":2,"tickColor":"#bbb","labelPadding":1,"domain":false}},"y2":{"field":"q3"},"fill":{"field":"grp","type":"nominal","scale":{"domain":["g","p","b"],"range":["#0e5a2c","#7d2c86","#2b2b80"]},"legend":null}}},
{"transform":[{"filter":"datum.kind=='box'"}],"mark":{"type":"tick","color":"#000","size":13,"thickness":1.5},"encoding":{"xOffset":{"field":"grp","type":"nominal","scale":{"domain":["g","p","b"],"paddingInner":0.156,"paddingOuter":0.426}},"y":{"field":"med","type":"quantitative","scale":{"domain":[-2,39],"nice":false,"zero":false},"axis":{"values":[0,5,10,15,20,25,30,35],"labelOverlap":false,"title":"Ergosterol  (mg g⁻¹ dw)","titleFontSize":9.5,"titleFont":"Liberation Sans","titleFontWeight":"normal","titleColor":"#222","titlePadding":5,"titleY":71,"labelFontSize":6.5,"labelColor":"#666","labelFont":"Liberation Sans","tickSize":2,"tickColor":"#bbb","labelPadding":1,"domain":false}}}},
{"transform":[{"filter":"datum.kind=='box'"}],"mark":{"type":"tick","color":"#9a9a9a","size":6,"thickness":1},"encoding":{"xOffset":{"field":"grp","type":"nominal","scale":{"domain":["g","p","b"],"paddingInner":0.156,"paddingOuter":0.426}},"y":{"field":"lo","type":"quantitative","scale":{"domain":[-2,39],"nice":false,"zero":false},"axis":{"values":[0,5,10,15,20,25,30,35],"labelOverlap":false,"title":"Ergosterol  (mg g⁻¹ dw)","titleFontSize":9.5,"titleFont":"Liberation Sans","titleFontWeight":"normal","titleColor":"#222","titlePadding":5,"titleY":71,"labelFontSize":6.5,"labelColor":"#666","labelFont":"Liberation Sans","tickSize":2,"tickColor":"#bbb","labelPadding":1,"domain":false}}}},
{"transform":[{"filter":"datum.kind=='box'"}],"mark":{"type":"tick","color":"#9a9a9a","size":6,"thickness":1},"encoding":{"xOffset":{"field":"grp","type":"nominal","scale":{"domain":["g","p","b"],"paddingInner":0.156,"paddingOuter":0.426}},"y":{"field":"hi","type":"quantitative","scale":{"domain":[-2,39],"nice":false,"zero":false},"axis":{"values":[0,5,10,15,20,25,30,35],"labelOverlap":false,"title":"Ergosterol  (mg g⁻¹ dw)","titleFontSize":9.5,"titleFont":"Liberation Sans","titleFontWeight":"normal","titleColor":"#222","titlePadding":5,"titleY":71,"labelFontSize":6.5,"labelColor":"#666","labelFont":"Liberation Sans","tickSize":2,"tickColor":"#bbb","labelPadding":1,"domain":false}}}},
{"transform":[{"filter":"datum.kind=='ext'"}],"mark":{"type":"point","shape":"M0,-1L0,1M-0.87,-0.5L0.87,0.5M-0.87,0.5L0.87,-0.5","filled":false,"color":"#111","size":30,"strokeWidth":1.2},"encoding":{"xOffset":{"field":"grp","type":"nominal","scale":{"domain":["g","p","b"],"paddingInner":0.156,"paddingOuter":0.426}},"y":{"field":"v","type":"quantitative","scale":{"domain":[-2,39],"nice":false,"zero":false},"axis":{"values":[0,5,10,15,20,25,30,35],"labelOverlap":false,"title":"Ergosterol  (mg g⁻¹ dw)","titleFontSize":9.5,"titleFont":"Liberation Sans","titleFontWeight":"normal","titleColor":"#222","titlePadding":5,"titleY":71,"labelFontSize":6.5,"labelColor":"#666","labelFont":"Liberation Sans","tickSize":2,"tickColor":"#bbb","labelPadding":1,"domain":false}}}},
{"transform":[{"filter":"datum.kind=='dot'"}],"mark":{"type":"point","shape":"circle","filled":true,"color":"#777","size":6},"encoding":{"xOffset":{"field":"grp","type":"nominal","scale":{"domain":["g","p","b"],"paddingInner":0.156,"paddingOuter":0.426}},"y":{"field":"v","type":"quantitative","scale":{"domain":[-2,39],"nice":false,"zero":false},"axis":{"values":[0,5,10,15,20,25,30,35],"labelOverlap":false,"title":"Ergosterol  (mg g⁻¹ dw)","titleFontSize":9.5,"titleFont":"Liberation Sans","titleFontWeight":"normal","titleColor":"#222","titlePadding":5,"titleY":71,"labelFontSize":6.5,"labelColor":"#666","labelFont":"Liberation Sans","tickSize":2,"tickColor":"#bbb","labelPadding":1,"domain":false}}}},
{"transform":[{"filter":"datum.kind=='box' && datum.stage=='Young' && datum.grp=='g'"}],"mark":{"type":"text","align":"left","baseline":"alphabetic","fontSize":17,"font":"Liberation Sans","color":"#000"},"encoding":{"x":{"field":"stage","type":"nominal","bandPosition":0.13},"y":{"datum":35.8,"type":"quantitative","scale":{"domain":[-2,39],"nice":false,"zero":false},"axis":{"values":[0,5,10,15,20,25,30,35],"labelOverlap":false,"title":"Ergosterol  (mg g⁻¹ dw)","titleFontSize":9.5,"titleFont":"Liberation Sans","titleFontWeight":"normal","titleColor":"#222","titlePadding":5,"titleY":71,"labelFontSize":6.5,"labelColor":"#666","labelFont":"Liberation Sans","tickSize":2,"tickColor":"#bbb","labelPadding":1,"domain":false}},"text":{"field":"year"}}}
]},

{"width":185,"height":166,"data":{"name":"bx"},"transform":[{"filter":"datum.site=='VMD' && datum.year=='2009'"}],
"encoding":{"x":{"field":"stage","type":"nominal","sort":["Young","Flowering","Senescence"],"scale":{"type":"band","domain":["Young","Flowering","Senescence"],"paddingInner":0,"paddingOuter":0.064,"align":0.2},"axis":{"labels":false,"ticks":false,"title":null,"domainColor":"#e6e6e6"}}},
"layer":[
{"transform":[{"filter":"datum.kind=='box'"}],"mark":{"type":"rule","color":"#9a9a9a","strokeWidth":1},"encoding":{"xOffset":{"field":"grp","type":"nominal","scale":{"domain":["g","p","b"],"paddingInner":0.156,"paddingOuter":0.426}},"y":{"field":"lo","type":"quantitative","scale":{"domain":[-2,39],"nice":false,"zero":false},"axis":{"title":null,"labels":false,"ticks":false,"domain":true,"domainColor":"#d6d6d6","domainDash":[2,2]}},"y2":{"field":"hi"}}},
{"transform":[{"filter":"datum.kind=='box'"}],"mark":{"type":"bar","stroke":"#d9d9d9","strokeWidth":1},"encoding":{"xOffset":{"field":"grp","type":"nominal","scale":{"domain":["g","p","b"],"paddingInner":0.156,"paddingOuter":0.426}},"y":{"field":"q1","type":"quantitative","scale":{"domain":[-2,39],"nice":false,"zero":false}},"y2":{"field":"q3"},"fill":{"field":"grp","type":"nominal","scale":{"domain":["g","p","b"],"range":["#0e5a2c","#7d2c86","#2b2b80"]},"legend":null}}},
{"transform":[{"filter":"datum.kind=='box'"}],"mark":{"type":"tick","color":"#000","size":13,"thickness":1.5},"encoding":{"xOffset":{"field":"grp","type":"nominal","scale":{"domain":["g","p","b"],"paddingInner":0.156,"paddingOuter":0.426}},"y":{"field":"med","type":"quantitative","scale":{"domain":[-2,39],"nice":false,"zero":false}}}},
{"transform":[{"filter":"datum.kind=='box'"}],"mark":{"type":"tick","color":"#9a9a9a","size":6,"thickness":1},"encoding":{"xOffset":{"field":"grp","type":"nominal","scale":{"domain":["g","p","b"],"paddingInner":0.156,"paddingOuter":0.426}},"y":{"field":"lo","type":"quantitative","scale":{"domain":[-2,39],"nice":false,"zero":false}}}},
{"transform":[{"filter":"datum.kind=='box'"}],"mark":{"type":"tick","color":"#9a9a9a","size":6,"thickness":1},"encoding":{"xOffset":{"field":"grp","type":"nominal","scale":{"domain":["g","p","b"],"paddingInner":0.156,"paddingOuter":0.426}},"y":{"field":"hi","type":"quantitative","scale":{"domain":[-2,39],"nice":false,"zero":false}}}},
{"transform":[{"filter":"datum.kind=='ext'"}],"mark":{"type":"point","shape":"M0,-1L0,1M-0.87,-0.5L0.87,0.5M-0.87,0.5L0.87,-0.5","filled":false,"color":"#111","size":30,"strokeWidth":1.2},"encoding":{"xOffset":{"field":"grp","type":"nominal","scale":{"domain":["g","p","b"],"paddingInner":0.156,"paddingOuter":0.426}},"y":{"field":"v","type":"quantitative","scale":{"domain":[-2,39],"nice":false,"zero":false}}}},
{"transform":[{"filter":"datum.kind=='dot'"}],"mark":{"type":"point","shape":"circle","filled":true,"color":"#777","size":6},"encoding":{"xOffset":{"field":"grp","type":"nominal","scale":{"domain":["g","p","b"],"paddingInner":0.156,"paddingOuter":0.426}},"y":{"field":"v","type":"quantitative","scale":{"domain":[-2,39],"nice":false,"zero":false}}}},
{"transform":[{"filter":"datum.kind=='box' && datum.stage=='Young' && datum.grp=='g'"}],"mark":{"type":"text","align":"left","baseline":"alphabetic","fontSize":17,"font":"Liberation Sans","color":"#000"},"encoding":{"x":{"field":"stage","type":"nominal","bandPosition":0.13},"y":{"datum":35.8,"type":"quantitative","scale":{"domain":[-2,39],"nice":false,"zero":false}},"text":{"field":"year"}}}
]},

{"width":185,"height":166,"data":{"name":"bx"},"transform":[{"filter":"datum.site=='VMD' && datum.year=='2010'"}],
"encoding":{"x":{"field":"stage","type":"nominal","sort":["Young","Flowering","Senescence"],"scale":{"type":"band","domain":["Young","Flowering","Senescence"],"paddingInner":0,"paddingOuter":0.064,"align":0.2},"axis":{"labels":false,"ticks":false,"title":null,"domainColor":"#e6e6e6"}}},
"layer":[
{"transform":[{"filter":"datum.kind=='box'"}],"mark":{"type":"rule","color":"#9a9a9a","strokeWidth":1},"encoding":{"xOffset":{"field":"grp","type":"nominal","scale":{"domain":["g","p","b"],"paddingInner":0.156,"paddingOuter":0.426}},"y":{"field":"lo","type":"quantitative","scale":{"domain":[-2,39],"nice":false,"zero":false},"axis":{"title":null,"labels":false,"ticks":false,"domain":true,"domainColor":"#d6d6d6","domainDash":[2,2]}},"y2":{"field":"hi"}}},
{"transform":[{"filter":"datum.kind=='box'"}],"mark":{"type":"bar","stroke":"#d9d9d9","strokeWidth":1},"encoding":{"xOffset":{"field":"grp","type":"nominal","scale":{"domain":["g","p","b"],"paddingInner":0.156,"paddingOuter":0.426}},"y":{"field":"q1","type":"quantitative","scale":{"domain":[-2,39],"nice":false,"zero":false}},"y2":{"field":"q3"},"fill":{"field":"grp","type":"nominal","scale":{"domain":["g","p","b"],"range":["#0e5a2c","#7d2c86","#2b2b80"]},"legend":null}}},
{"transform":[{"filter":"datum.kind=='box'"}],"mark":{"type":"tick","color":"#000","size":13,"thickness":1.5},"encoding":{"xOffset":{"field":"grp","type":"nominal","scale":{"domain":["g","p","b"],"paddingInner":0.156,"paddingOuter":0.426}},"y":{"field":"med","type":"quantitative","scale":{"domain":[-2,39],"nice":false,"zero":false}}}},
{"transform":[{"filter":"datum.kind=='box'"}],"mark":{"type":"tick","color":"#9a9a9a","size":6,"thickness":1},"encoding":{"xOffset":{"field":"grp","type":"nominal","scale":{"domain":["g","p","b"],"paddingInner":0.156,"paddingOuter":0.426}},"y":{"field":"lo","type":"quantitative","scale":{"domain":[-2,39],"nice":false,"zero":false}}}},
{"transform":[{"filter":"datum.kind=='box'"}],"mark":{"type":"tick","color":"#9a9a9a","size":6,"thickness":1},"encoding":{"xOffset":{"field":"grp","type":"nominal","scale":{"domain":["g","p","b"],"paddingInner":0.156,"paddingOuter":0.426}},"y":{"field":"hi","type":"quantitative","scale":{"domain":[-2,39],"nice":false,"zero":false}}}},
{"transform":[{"filter":"datum.kind=='ext'"}],"mark":{"type":"point","shape":"M0,-1L0,1M-0.87,-0.5L0.87,0.5M-0.87,0.5L0.87,-0.5","filled":false,"color":"#111","size":30,"strokeWidth":1.2},"encoding":{"xOffset":{"field":"grp","type":"nominal","scale":{"domain":["g","p","b"],"paddingInner":0.156,"paddingOuter":0.426}},"y":{"field":"v","type":"quantitative","scale":{"domain":[-2,39],"nice":false,"zero":false}}}},
{"transform":[{"filter":"datum.kind=='dot'"}],"mark":{"type":"point","shape":"circle","filled":true,"color":"#777","size":6},"encoding":{"xOffset":{"field":"grp","type":"nominal","scale":{"domain":["g","p","b"],"paddingInner":0.156,"paddingOuter":0.426}},"y":{"field":"v","type":"quantitative","scale":{"domain":[-2,39],"nice":false,"zero":false}}}},
{"transform":[{"filter":"datum.kind=='box' && datum.stage=='Young' && datum.grp=='g'"}],"mark":{"type":"text","align":"left","baseline":"alphabetic","fontSize":17,"font":"Liberation Sans","color":"#000"},"encoding":{"x":{"field":"stage","type":"nominal","bandPosition":0.13},"y":{"datum":35.8,"type":"quantitative","scale":{"domain":[-2,39],"nice":false,"zero":false}},"text":{"field":"year"}}}
]},

{"width": 99, "height": 10, "data": {"values": []}, "mark": "point", "encoding": {}},

{"width":185,"height":46,"data":{"name":"tx"},"transform":[{"filter":"datum.site=='VMD' && datum.year=='2008'"}],
"encoding":{"x":{"field":"stage","type":"nominal","bandPosition":0.5,"sort":["Young","Flowering","Senescence"],"scale":{"type":"band","domain":["Young","Flowering","Senescence"],"paddingInner":0,"paddingOuter":0.064,"align":0.2},"axis":null}},
"layer":[
{"transform":[{"filter":"datum.level=='High'"}],"mark":{"type":"text","fontSize":10,"font":"Liberation Sans","color":"#222"},"encoding":{"y":{"datum":"Stage","type":"nominal","scale":{"type":"point","domain":["Stage","High","Low"],"padding":0.862,"align":0.64},"axis":{"title":null,"ticks":false,"domain":false,"labelFontSize":9.5,"labelColor":"#111","labelFont":"Liberation Sans","labelPadding":3,"labelExpr":"datum.label == 'Stage' ? '' : datum.label"}},"text":{"field":"stage"}}},
{"mark":{"type":"text","fontSize":8,"font":"Liberation Serif","fontWeight":"bold"},"encoding":{"y":{"field":"level","type":"nominal","scale":{"type":"point","domain":["Stage","High","Low"],"padding":0.862,"align":0.64}},"text":{"field":"label"},"color":{"field":"code","type":"nominal","scale":{"domain":["P","D","Avn","Avk","K","M"],"range":["#2c5f22","#2c5f22","#2c5f22","#2c5f22","#23298a","#a1468b"]},"legend":null}}}
]},

{"width":185,"height":46,"data":{"name":"tx"},"transform":[{"filter":"datum.site=='VMD' && datum.year=='2009'"}],
"encoding":{"x":{"field":"stage","type":"nominal","bandPosition":0.5,"sort":["Young","Flowering","Senescence"],"scale":{"type":"band","domain":["Young","Flowering","Senescence"],"paddingInner":0,"paddingOuter":0.064,"align":0.2},"axis":null}},
"layer":[
{"transform":[{"filter":"datum.level=='High'"}],"mark":{"type":"text","fontSize":10,"font":"Liberation Sans","color":"#222"},"encoding":{"y":{"datum":"Stage","type":"nominal","scale":{"type":"point","domain":["Stage","High","Low"],"padding":0.862,"align":0.64},"axis":{"title":null,"labels":false,"ticks":false,"domain":true,"domainColor":"#d6d6d6","domainDash":[2,2]}},"text":{"field":"stage"}}},
{"mark":{"type":"text","fontSize":8,"font":"Liberation Serif","fontWeight":"bold"},"encoding":{"y":{"field":"level","type":"nominal","scale":{"type":"point","domain":["Stage","High","Low"],"padding":0.862,"align":0.64}},"text":{"field":"label"},"color":{"field":"code","type":"nominal","scale":{"domain":["P","D","Avn","Avk","K","M"],"range":["#2c5f22","#2c5f22","#2c5f22","#2c5f22","#23298a","#a1468b"]},"legend":null}}}
]},

{"width":185,"height":46,"data":{"name":"tx"},"transform":[{"filter":"datum.site=='VMD' && datum.year=='2010'"}],
"encoding":{"x":{"field":"stage","type":"nominal","bandPosition":0.5,"sort":["Young","Flowering","Senescence"],"scale":{"type":"band","domain":["Young","Flowering","Senescence"],"paddingInner":0,"paddingOuter":0.064,"align":0.2},"axis":null}},
"layer":[
{"transform":[{"filter":"datum.level=='High'"}],"mark":{"type":"text","fontSize":10,"font":"Liberation Sans","color":"#222"},"encoding":{"y":{"datum":"Stage","type":"nominal","scale":{"type":"point","domain":["Stage","High","Low"],"padding":0.862,"align":0.64},"axis":{"title":null,"labels":false,"ticks":false,"domain":true,"domainColor":"#d6d6d6","domainDash":[2,2]}},"text":{"field":"stage"}}},
{"mark":{"type":"text","fontSize":8,"font":"Liberation Serif","fontWeight":"bold"},"encoding":{"y":{"field":"level","type":"nominal","scale":{"type":"point","domain":["Stage","High","Low"],"padding":0.862,"align":0.64}},"text":{"field":"label"},"color":{"field":"code","type":"nominal","scale":{"domain":["P","D","Avn","Avk","K","M"],"range":["#2c5f22","#2c5f22","#2c5f22","#2c5f22","#23298a","#a1468b"]},"legend":null}}}
]}
]
}
